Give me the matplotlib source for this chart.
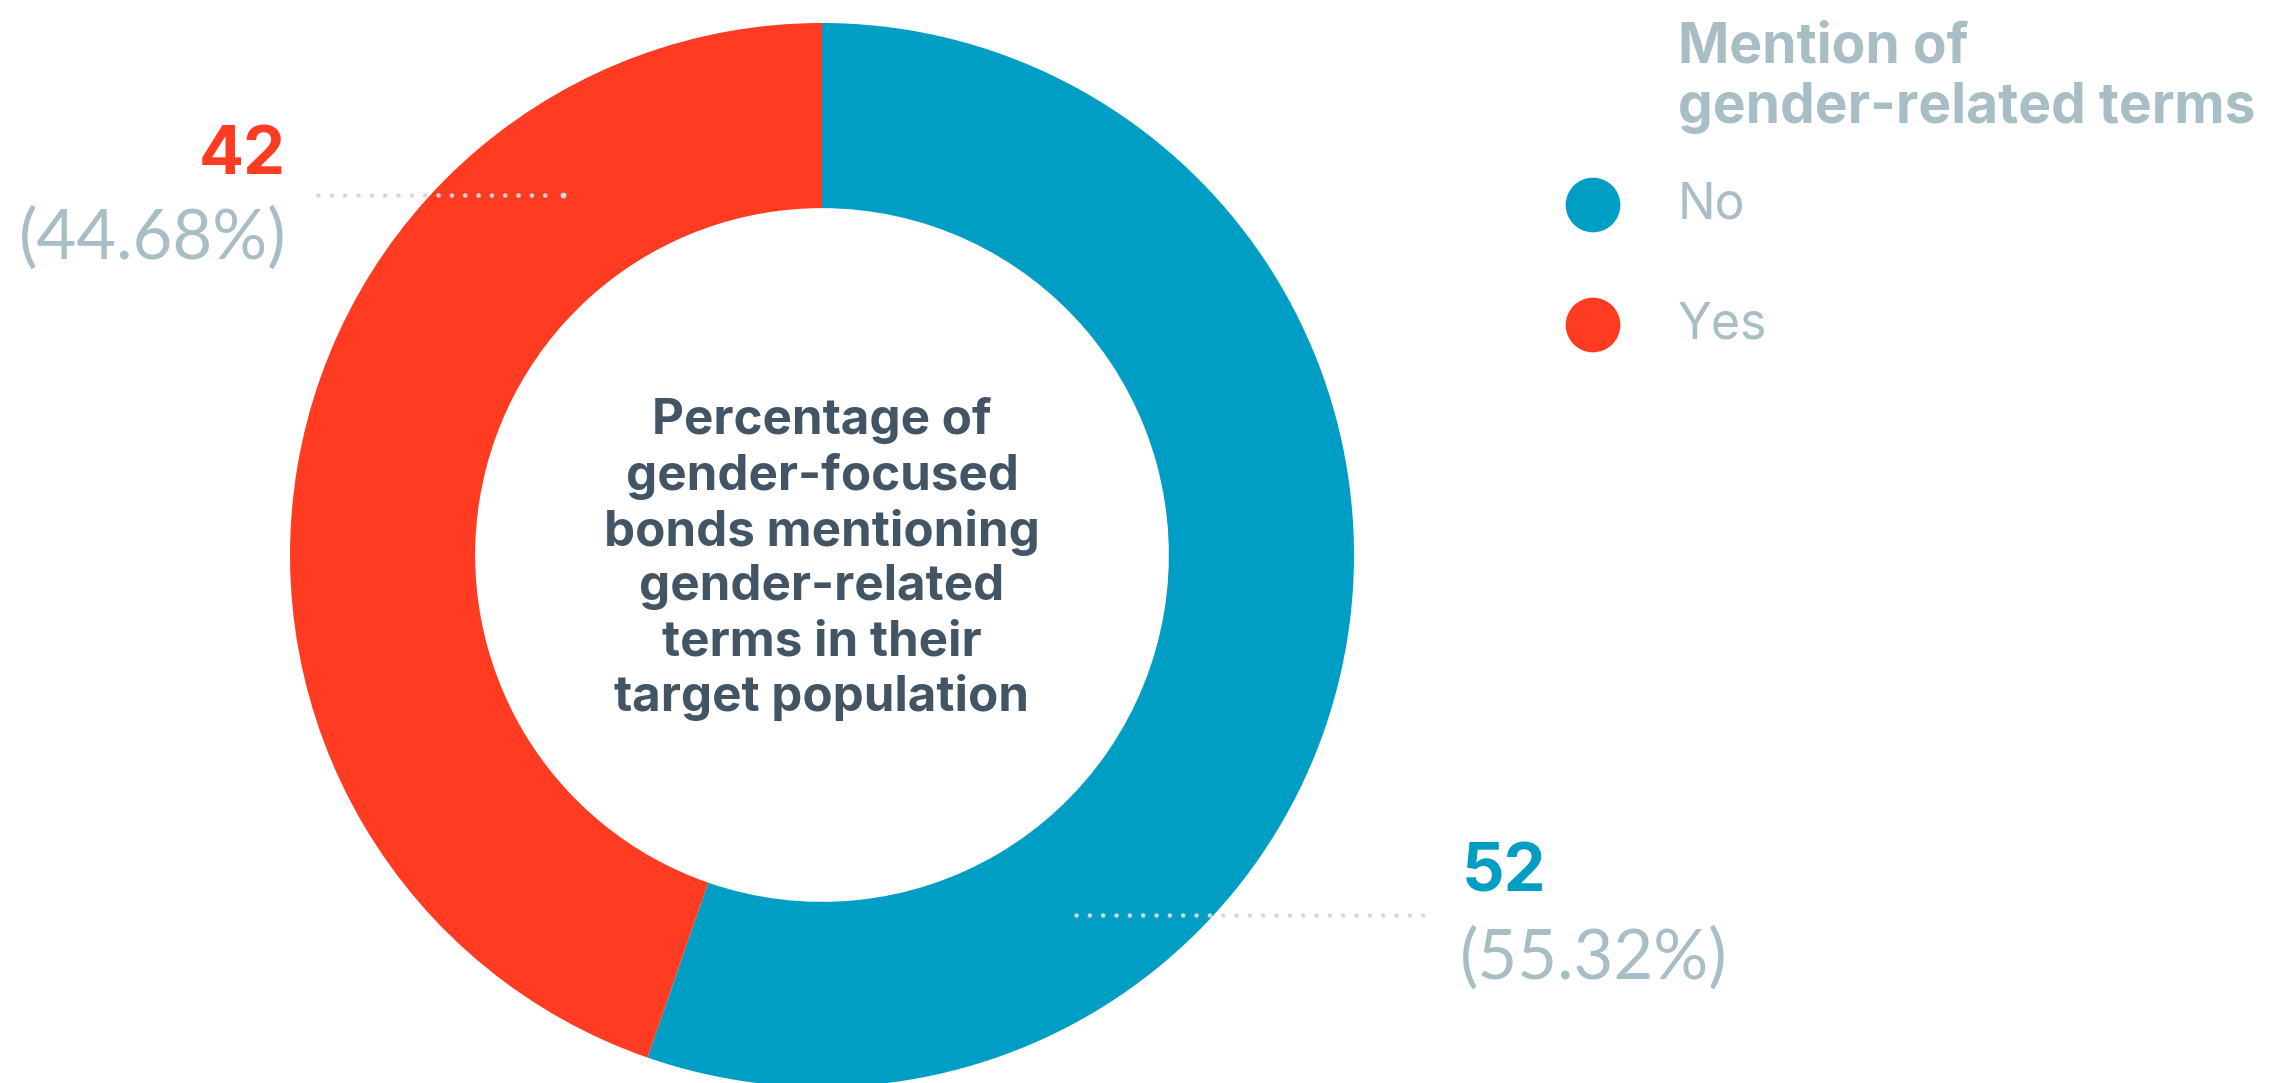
import matplotlib
matplotlib.use("Agg")
import matplotlib.pyplot as plt

categories = ["No", "Yes"]
counts = [52, 42]
percents = ["55.32%", "44.68%"]
colors = ["#009DC4", "#FF3B21"]
legend_title = "Mention of\ngender-related terms"
center_text = ("Percentage of\ngender-focused\nbonds mentioning\ngender-related\n"
               "terms in their\ntarget population")

W, H = 2269, 1083
plt.rcParams['font.family'] = ['Inter', 'DejaVu Sans']
fig = plt.figure(figsize=(W / 100, H / 100), dpi=100)
fig.patch.set_facecolor("white")

cx, cy, R = 822, 555, 532
axp = fig.add_axes([(cx - R) / W, (H - cy - R) / H, 2 * R / W, 2 * R / H])
axp.pie(counts, colors=colors, startangle=90, counterclock=False, radius=1,
        wedgeprops=dict(width=0.348, edgecolor="none"))
axp.set_xlim(-1, 1)
axp.set_ylim(-1, 1)
axp.axis("off")

ax = fig.add_axes([0, 0, 1, 1])
ax.set_xlim(0, W)
ax.set_ylim(H, 0)
ax.axis("off")
ax.patch.set_alpha(0)

grey = "#A8BEC4"
dark = "#435565"
dotc = "#D0DADE"
dot = dict(color=dotc, lw=3.3, linestyle=(0, (0.01, 2.9)), dash_capstyle="round")

# Yes label (left)
ax.plot([318, 553], [195, 195], **dot)
ax.plot([563], [195], "o", ms=4.2, color=dotc, mec="none")
ax.text(286, 157, str(counts[1]), color=colors[1], fontsize=48, fontweight="bold",
        ha="right", va="center")
ax.text(287, 238, f"({percents[1]})", color=grey, fontsize=49.5, ha="right", va="center",
        family=["Lato", "DejaVu Sans"])

# No label (right)
ax.plot([1076, 1433], [915, 915], **dot)
ax.text(1462, 874, str(counts[0]), color=colors[0], fontsize=48, fontweight="bold",
        ha="left", va="center")
ax.text(1460, 958, f"({percents[0]})", color=grey, fontsize=49.5, ha="left", va="center",
        family=["Lato", "DejaVu Sans"])

# center text
ax.text(cx, 559, center_text, color=dark, fontsize=35.5, fontweight="bold",
        ha="center", va="center", linespacing=1.24)

# legend
ax.text(1678, 78, legend_title, color=grey, fontsize=39.7, fontweight="bold",
        ha="left", va="center", linespacing=1.2)
for i, (cat, col) in enumerate(zip(categories, colors)):
    y = 205 + i * 120
    ax.scatter([1593], [y], s=1550, color=col, edgecolors="none")
    ax.text(1678, y, cat, color=grey, fontsize=36, ha="left", va="center")

fig.savefig("out.png", dpi=100, facecolor="white")
